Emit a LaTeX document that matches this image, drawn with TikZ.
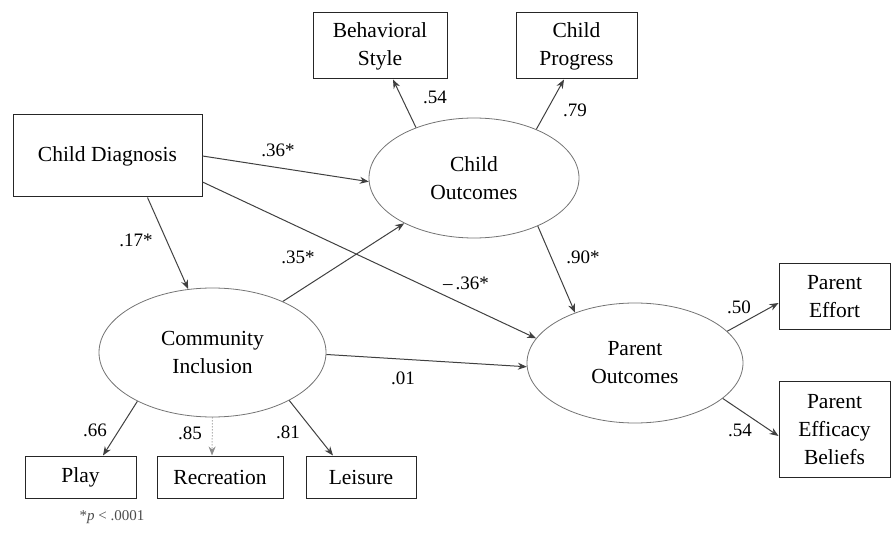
\documentclass[tikz,border=0pt]{standalone}
\usepackage{fontspec}
\setmainfont{Liberation Serif}
\usetikzlibrary{shapes.geometric,arrows.meta}
\begin{document}
\begin{tikzpicture}[x=1pt,y=-1pt,
  box/.style={draw=black!85,line width=1pt,inner sep=0pt,align=center,font=\fontsize{21.5}{28}\selectfont},
  latent/.style={draw=black!55,line width=0.8pt,ellipse,inner sep=0pt,align=center,font=\fontsize{21.5}{28}\selectfont},
  path/.style={draw=black!75,line width=1pt,-{Stealth[length=9pt,width=7pt]}},
  lab/.style={font=\fontsize{19}{22}\selectfont,inner sep=0pt}]
\useasboundingbox (0,0) rectangle (892,537);
% observed boxes
\node[box,minimum width=134pt,minimum height=66pt] (bs) at (380,46) {Behavioral\\Style};
\node[box,minimum width=121pt,minimum height=66pt] (cp) at (576.5,46) {Child\\Progress};
\node[box,minimum width=189pt,minimum height=82pt] (cd) at (107.5,156) {Child Diagnosis};
\node[box,minimum width=111pt,minimum height=42pt] (play) at (80.5,477) {Play};
\node[box,minimum width=126pt,minimum height=42pt] (rec) at (220,477) {Recreation};
\node[box,minimum width=110pt,minimum height=42pt] (lei) at (361,477) {Leisure};
\node[box,minimum width=111pt,minimum height=66pt] (pe) at (834.5,297) {Parent\\Effort};
\node[box,minimum width=111pt,minimum height=95pt] (peb) at (834.5,429.5) {Parent\\Efficacy\\Beliefs};
% latent ellipses
\node[latent,minimum width=210pt,minimum height=120pt] (co) at (474,178) {Child\\Outcomes};
\node[latent,minimum width=227pt,minimum height=129pt] (ci) at (212.5,352.5) {Community\\Inclusion};
\node[latent,minimum width=216pt,minimum height=120pt] (po) at (635,363) {Parent\\Outcomes};
% structural paths
\draw[path] (cd.east) -- (co.182);
\draw[path] ([yshift=-26pt]cd.east) -- (po.166);
\draw[path] ([xshift=40pt]cd.south) -- (ci.111);
\draw[path] (ci.36.7) -- (co.213.5);
\draw[path] (ci.-1) -- (po.182);
\draw[path] (co.323) -- (po.140);
% measurement paths
\draw[path] (co.139.7) -- ([xshift=13pt]bs.south);
\draw[path] (co.38) -- ([xshift=-12.5pt]cp.south);
\draw[path] (ci.213.4) -- ([xshift=22.5pt]play.north);
\draw[path,draw=black!45,dotted] (ci.270) -- ([xshift=-8pt]rec.north);
\draw[path] (ci.-32.4) -- ([xshift=-28pt]lei.north);
\draw[path] (po.19) -- ([yshift=-6pt]pe.west);
\draw[path] (po.-22) -- ([yshift=-6.5pt]peb.west);
% coefficient labels
\node[lab] (l1) at (278,150) {.36*};
\node[lab] (l2) at (136,240) {.17*};
\node[lab] (l3) at (298,257) {.35*};
\node[lab] (l4) at (435,97) {.54};
\node[lab] (l5) at (575,110) {.79};
\node[lab] (l6) at (583,257) {.90*};
\node[lab] (l7) at (466,283) {–\,.36*};
\node[lab] (l8) at (403,378) {.01};
\node[lab] (l9) at (95,430) {.66};
\node[lab] (l10) at (190,433) {.85};
\node[lab] (l11) at (288,432) {.81};
\node[lab] (l12) at (739,307) {.50};
\node[lab] (l13) at (740,430) {.54};
\node[font=\fontsize{15}{18}\selectfont,inner sep=0pt,text=black!70] (fn) at (112,517) {*\textit{p} < .0001};
\end{tikzpicture}
\end{document}
